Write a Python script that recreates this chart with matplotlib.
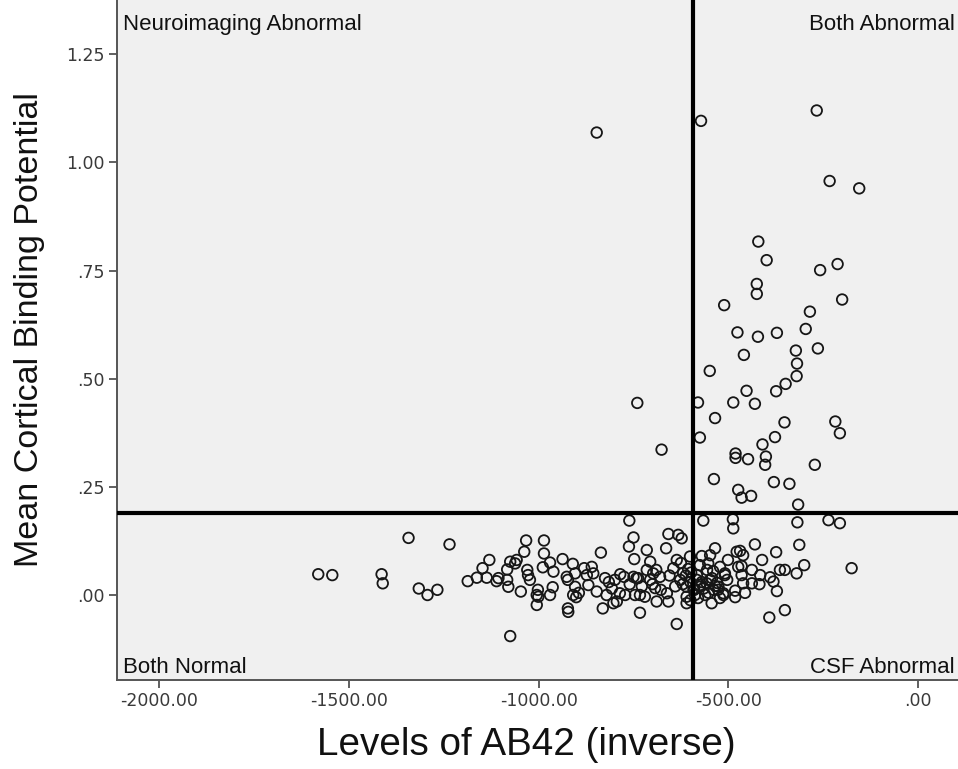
import matplotlib
matplotlib.use("Agg")
import matplotlib.pyplot as plt

# AB42 level (inverse) and mean cortical binding potential per subject
ab42 = [
    # upper region
    -847, -572, -267, -233, -155, -421, -399, -258, -212, -425, -425, -511, -200,
    -285, -476, -422, -372, -296, -322, -264, -459, -319, -549, -320, -349, -452,
    -374, -740, -580, -487, -430, -535, -352, -218, -206, -575, -377, -676, -410,
    -481, -481, -448, -401, -403, -272, -538, -380, -339, -474, -440, -465, -316,
    # right of the AB42 cutoff, below the binding cutoff
    -566, -488, -487, -318, -236, -206, -535, -469, -461, -430, -374, -313, -570,
    -548, -300, -320, -364, -351, -175, -465, -522, -553, -465, -509, -390, -381,
    -438, -418, -461, -535, -557, -372, -482, -513, -561, -482, -544, -351, -392,
    -583, -575, -590, -580, -543, -527, -503, -456, -416, -438, -556, -501, -411,
    -575, -522, -588, -583, -575, -548, -539, -526, -509, -513, -478, -474,
    -570, -565, -552, -540, -530,
    # left of the cutoff
    -1316, -1293, -1267, -1235, -1187, -1163, -1148, -1130, -1137, -1111, -1083,
    -1080, -1083, -1075, -1058, -1038, -1033, -1030, -1023, -1028, -1047, -1005,
    -1005, -1002, -986, -986, -989, -970, -961, -963, -970, -937, -926, -923,
    -910, -904, -909, -901, -894, -923, -922, -904, -1075, -860, -856, -836,
    -869, -847, -831, -821, -807, -803, -794, -786, -775, -761, -750, -762,
    -748, -750, -738, -746, -733, -720, -733, -715, -706, -715, -698, -689,
    -680, -678, -664, -658, -662, -658, -645, -632, -623, -636, -625, -627,
    -619, -610, -610, -636, -601, -610, -706, -693, -772, -799, -825, -873,
    -1001, -1106, -1062, -742, -592,
    -600, -598, -606, -600, -612, -620, -640, -655, -690, -700, -728, -760,
    -785, -815, -880,
    -1581, -1544, -1414, -1411, -1343,
]
binding = [
    1.069, 1.096, 1.120, 0.957, 0.940, 0.817, 0.774, 0.751, 0.765, 0.719, 0.696,
    0.670, 0.683, 0.655, 0.607, 0.597, 0.606, 0.615, 0.565, 0.570, 0.555, 0.535,
    0.518, 0.506, 0.488, 0.472, 0.471, 0.444, 0.445, 0.445, 0.442, 0.409, 0.399,
    0.401, 0.374, 0.364, 0.365, 0.336, 0.348, 0.327, 0.317, 0.314, 0.320, 0.301,
    0.301, 0.268, 0.261, 0.257, 0.243, 0.229, 0.225, 0.209,
    0.172, 0.175, 0.154, 0.168, 0.173, 0.166, 0.108, 0.102, 0.092, 0.117, 0.099,
    0.116, 0.090, 0.092, 0.069, 0.050, 0.058, 0.058, 0.062, 0.067, 0.065, 0.073,
    0.046, 0.050, 0.041, 0.031, 0.027, 0.025, 0.027, 0.021, 0.027, 0.009, 0.010,
    0.004, 0.000, -0.005, -0.019, -0.035, -0.052,
    0.046, 0.023, 0.012, -0.007, 0.039, 0.012, 0.035, 0.005, 0.046, 0.058, 0.058,
    0.081, 0.081, 0.069, -0.007, 0.000, 0.035, 0.019, 0.035, 0.012, 0.019, 0.046,
    0.000, 0.100, 0.065,
    0.030, 0.015, 0.005, 0.055, 0.028,
    0.015, 0.000, 0.012, 0.117, 0.032, 0.040, 0.062, 0.081, 0.040, 0.032, 0.035,
    0.019, 0.059, 0.077, 0.081, 0.100, 0.126, 0.058, 0.035, 0.046, 0.008, 0.000,
    -0.023, 0.012, 0.126, 0.096, 0.064, 0.075, 0.054, 0.018, 0.000, 0.083, 0.042,
    0.035, 0.072, 0.050, 0.000, -0.005, 0.005, -0.031, -0.039, 0.019, -0.095,
    0.065, 0.050, 0.098, 0.023, 0.008, -0.031, 0.000, 0.015, -0.019, -0.015,
    0.004, 0.042, 0.172, 0.133, 0.112, 0.083, 0.042, 0.039, 0.000, 0.000, -0.004,
    -0.041, 0.104, 0.077, 0.058, 0.050, -0.015, 0.042, 0.012, 0.108, 0.141,
    0.004, -0.015, 0.062, 0.139, 0.131, 0.081, 0.074, 0.035, 0.051, 0.019,
    -0.019, -0.067, 0.089, -0.004, 0.035, 0.016, 0.000, 0.035, 0.039, 0.046,
    -0.004, 0.039, 0.073, 0.039, 0.012,
    0.030, 0.052, 0.060, -0.012, 0.045, 0.025, 0.020, 0.045, 0.058, 0.025,
    0.020, 0.025, 0.048, 0.030, 0.062,
    0.048, 0.046, 0.048, 0.027, 0.132,
]

ab42_cutoff = -594
binding_cutoff = 0.19

x_ticks = [-2000, -1500, -1000, -500, 0]
x_tick_labels = ["-2000.00", "-1500.00", "-1000.00", "-500.00", ".00"]
y_ticks = [0.0, 0.25, 0.50, 0.75, 1.00, 1.25]
y_tick_labels = [".00", ".25", ".50", ".75", "1.00", "1.25"]

quadrant_labels = ["Neuroimaging Abnormal", "Both Abnormal", "Both Normal", "CSF Abnormal"]

W, H = 958, 769
fig = plt.figure(figsize=(W / 100, H / 100), dpi=100)
fig.patch.set_facecolor("white")
ax = fig.add_axes([117 / W, (H - 680) / H, (W - 117) / W, 680 / H])
ax.set_facecolor("#f0f0f0")

ax.scatter(ab42, binding, s=58, facecolors="none", edgecolors="#161616",
           linewidths=1.3, zorder=2)

ax.axvline(ab42_cutoff, color="black", lw=3.0, zorder=3)
ax.axhline(binding_cutoff, color="black", lw=3.0, zorder=3)

ax.set_xlim(-2111.5, 105.4)
ax.set_ylim(-0.1965, 1.3754)

ax.set_xticks(x_ticks)
ax.set_xticklabels(x_tick_labels)
ax.set_yticks(y_ticks)
ax.set_yticklabels(y_tick_labels)
ax.tick_params(axis="both", direction="out", length=6, width=1.2, color="#444444",
               labelsize=12.5, labelcolor="#3a3a3a", pad=3)
for lab in ax.get_xticklabels() + ax.get_yticklabels():
    lab.set_fontfamily("DejaVu Sans")

for side in ("top", "right"):
    ax.spines[side].set_visible(False)
for side in ("left", "bottom"):
    ax.spines[side].set_color("#555555")
    ax.spines[side].set_linewidth(1.4)

qfont = dict(family="Liberation Sans", fontsize=16, color="#111111")
ax.text(0.007, 0.980, quadrant_labels[0], transform=ax.transAxes, ha="left", va="top", **qfont)
ax.text(0.996, 0.980, quadrant_labels[1], transform=ax.transAxes, ha="right", va="top", **qfont)
ax.text(0.007, 0.003, quadrant_labels[2], transform=ax.transAxes, ha="left", va="bottom", **qfont)
ax.text(0.996, 0.003, quadrant_labels[3], transform=ax.transAxes, ha="right", va="bottom", **qfont)

fig.text(526 / W, 1 - 745 / H, "Levels of AB42 (inverse)", ha="center", va="center",
         family="Liberation Sans", fontsize=27.8, color="#111111")
fig.text(30 / W, 1 - 330 / H, "Mean Cortical Binding Potential", ha="center", va="center",
         rotation=90, family="Liberation Sans", fontsize=24.5, color="#111111")

fig.savefig("out.png", dpi=100)
